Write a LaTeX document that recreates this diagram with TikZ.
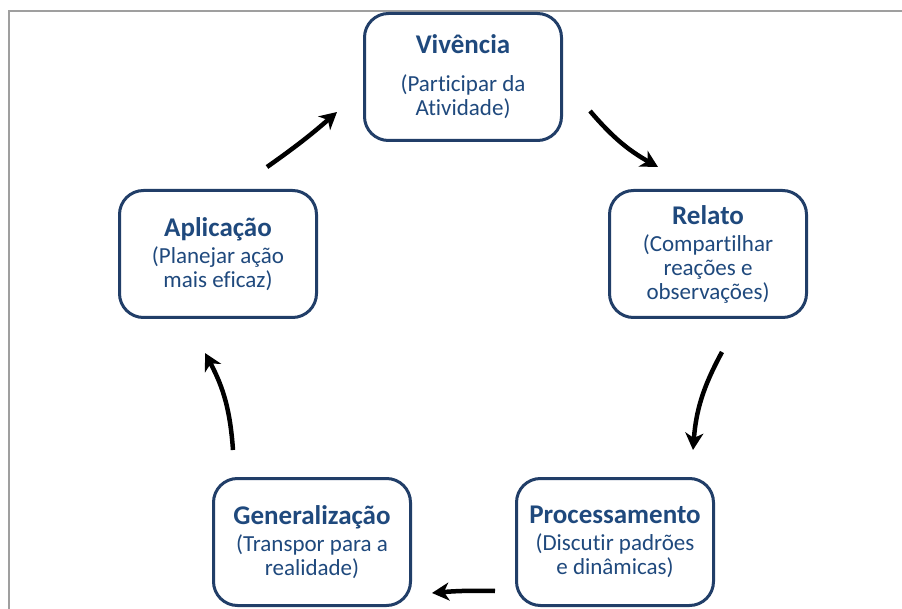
\documentclass[tikz,border=0pt]{standalone}
\usepackage{fontspec}
\setmainfont{Carlito}[Ligatures=NoCommon]
\usepackage{tikz}
\usetikzlibrary{arrows.meta}

\definecolor{stageblue}{RGB}{31,73,125}
\definecolor{stageline}{RGB}{33,62,104}
\newcommand{\stagetitle}[1]{{\fontsize{27}{28}\selectfont\bfseries #1}}

\begin{document}
\begin{tikzpicture}[x=1pt, y=-1pt,
    stage/.style={draw=stageline, line width=3pt, rounded corners=24pt, fill=white,
        minimum width=197pt, minimum height=127pt, align=center, text=stageblue,
        font=\fontsize{23}{24}\selectfont},
    cyclearrow/.style={-{Stealth[length=17pt, width=18pt, inset=5pt]}, line width=4.5pt}]
        \useasboundingbox (0,0) rectangle (902,609);
        \clip (0,0) rectangle (902,609);

        % Frame
        \draw[gray!75, line width=1.5pt] (9,640) -- (9,11) -- (910,11);

        % Stages of the cycle
        \node[stage] (vivencia) at (463,77) {\stagetitle{Vivência}\\[14pt](Participar da\\Atividade)};
        \node[stage] (relato) at (708,254) {\stagetitle{Relato}\\[3pt](Compartilhar\\reações e\\observações)};
        \node[stage] (processamento) at (615,542) {\stagetitle{Processamento}\\[3pt](Discutir padrões\\e dinâmicas)};
        \node[stage] (generalizacao) at (312,542) {\stagetitle{Generalização}\\[3pt](Transpor para a\\realidade)};
        \node[stage] (aplicacao) at (218,254) {\stagetitle{Aplicação}\\[3pt](Planejar ação\\mais eficaz)};

        % Arrow ends
        \coordinate (a1s) at (267,167);  \coordinate (a1e) at (337,112);
        \coordinate (a2s) at (590,111);  \coordinate (a2e) at (658,167);
        \coordinate (a3s) at (722,352);  \coordinate (a3e) at (693,450);
        \coordinate (a4s) at (495,591);  \coordinate (a4e) at (432,593);
        \coordinate (a5s) at (233,450);  \coordinate (a5e) at (205,353);

        % Arrows
        \foreach \i/\b in {1/3, 2/10, 3/12, 4/3, 5/12} {
            \draw[cyclearrow] (a\i s) to[bend right=\b] (a\i e);
        }
    \end{tikzpicture}
\end{document}
